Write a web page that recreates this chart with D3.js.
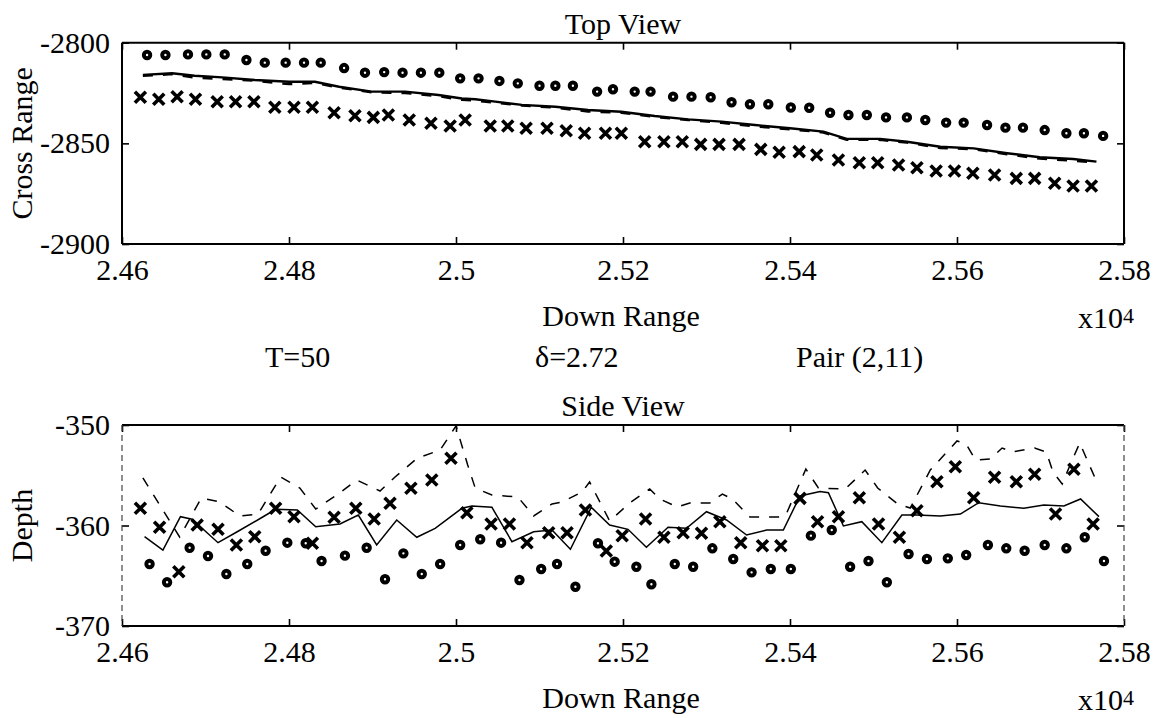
<!DOCTYPE html>
<html>
<head>
<meta charset="utf-8">
<script src="https://cdn.jsdelivr.net/npm/d3@7"></script>
<style>
    body { margin: 0; background: #fff; }
    svg text { font-family: "Liberation Serif", "Times New Roman", serif; fill: #000; }
</style>
</head>
<body>
<div id="chart"></div>
<script>
'use strict';

// down range values are in units of 10^4
const xTicks = [2.46, 2.48, 2.50, 2.52, 2.54, 2.56, 2.58];
const topYTicks = [-2900, -2850, -2800];
const sideYTicks = [-370, -360, -350];
const captions = ['T=50', '\u03b4=2.72', 'Pair (2,11)'];

// Top view: cross range
const topCircles = [
    [2.4630, -2806.1], [2.4652, -2806.1], [2.4679, -2805.8], [2.4701, -2805.8], [2.4723, -2805.8],
    [2.4749, -2808.6], [2.4771, -2809.9], [2.4796, -2809.9], [2.4818, -2809.9], [2.4838, -2809.9],
    [2.4866, -2812.6], [2.4891, -2814.9], [2.4914, -2814.6], [2.4936, -2814.9], [2.4958, -2814.9],
    [2.4980, -2814.9], [2.5005, -2817.7], [2.5027, -2817.7], [2.5052, -2819.0], [2.5074, -2820.2],
    [2.5100, -2821.4], [2.5119, -2821.4], [2.5140, -2821.4], [2.5169, -2824.3], [2.5188, -2823.1],
    [2.5214, -2824.3], [2.5233, -2824.3], [2.5260, -2826.8], [2.5282, -2826.8], [2.5305, -2827.1],
    [2.5330, -2829.6], [2.5352, -2830.6], [2.5374, -2830.6], [2.5401, -2832.2], [2.5423, -2832.3],
    [2.5448, -2834.8], [2.5470, -2835.9], [2.5492, -2835.9], [2.5515, -2837.1], [2.5540, -2837.1],
    [2.5562, -2838.4], [2.5587, -2839.7], [2.5608, -2839.7], [2.5636, -2840.9], [2.5658, -2842.2],
    [2.5679, -2842.2], [2.5705, -2843.4], [2.5731, -2845.0], [2.5752, -2845.0], [2.5775, -2846.3]
];

const topCrosses = [
    [2.4622, -2827.1], [2.4644, -2828.1], [2.4666, -2826.8], [2.4688, -2828.1], [2.4714, -2829.3],
    [2.4736, -2829.3], [2.4758, -2829.3], [2.4783, -2832.1], [2.4806, -2832.1], [2.4828, -2832.1],
    [2.4854, -2834.8], [2.4879, -2836.3], [2.4901, -2837.1], [2.4919, -2835.9], [2.4944, -2838.4],
    [2.4970, -2840.0], [2.4993, -2841.4], [2.5011, -2838.4], [2.5041, -2841.4], [2.5062, -2841.4],
    [2.5084, -2842.5], [2.5109, -2842.5], [2.5132, -2843.7], [2.5154, -2845.0], [2.5179, -2845.0],
    [2.5198, -2845.0], [2.5226, -2849.2], [2.5249, -2849.2], [2.5271, -2849.2], [2.5293, -2850.5],
    [2.5315, -2850.5], [2.5339, -2850.5], [2.5365, -2853.0], [2.5387, -2854.4], [2.5411, -2854.1],
    [2.5432, -2855.8], [2.5458, -2858.3], [2.5483, -2859.6], [2.5505, -2859.6], [2.5530, -2860.8],
    [2.5552, -2862.1], [2.5575, -2863.7], [2.5597, -2863.7], [2.5619, -2864.9], [2.5645, -2865.7],
    [2.5671, -2867.4], [2.5693, -2867.4], [2.5717, -2869.8], [2.5739, -2871.2], [2.5761, -2871.2]
];

const topSolid = [
    [2.4625, -2816.0], [2.4660, -2815.2], [2.4687, -2816.4], [2.4720, -2817.2], [2.4759, -2818.5],
    [2.4800, -2819.4], [2.4831, -2819.4], [2.4860, -2821.9], [2.4899, -2824.3], [2.4939, -2824.3],
    [2.4979, -2826.0], [2.5007, -2827.7], [2.5023, -2828.1], [2.5047, -2829.3], [2.5079, -2830.9],
    [2.5119, -2831.8], [2.5158, -2833.4], [2.5198, -2834.3], [2.5238, -2836.4], [2.5278, -2838.1],
    [2.5318, -2839.2], [2.5358, -2840.9], [2.5400, -2842.5], [2.5440, -2844.2], [2.5468, -2847.8],
    [2.5508, -2847.8], [2.5540, -2849.2], [2.5580, -2851.7], [2.5620, -2852.5], [2.5660, -2854.9],
    [2.5699, -2856.9], [2.5739, -2857.8], [2.5767, -2859.1]
];

const topDashed = [
    [2.4625, -2816.5], [2.4660, -2815.6], [2.4687, -2817.3], [2.4720, -2818.0], [2.4759, -2818.9],
    [2.4800, -2820.6], [2.4831, -2820.0], [2.4860, -2822.3], [2.4899, -2824.6], [2.4939, -2825.0],
    [2.4979, -2826.6], [2.5007, -2828.4], [2.5023, -2828.8], [2.5047, -2829.8], [2.5079, -2831.2],
    [2.5119, -2832.3], [2.5158, -2834.2], [2.5198, -2834.8], [2.5238, -2836.9], [2.5278, -2838.4],
    [2.5318, -2839.8], [2.5358, -2841.6], [2.5400, -2843.0], [2.5440, -2844.6], [2.5468, -2848.2],
    [2.5508, -2848.3], [2.5540, -2849.6], [2.5580, -2852.3], [2.5620, -2852.9], [2.5660, -2855.4],
    [2.5699, -2857.6], [2.5739, -2858.6], [2.5767, -2859.5]
];

// Side view: depth
const sideCircles = [
    [2.4633, -363.83], [2.4654, -365.65], [2.4681, -362.21], [2.4703, -363.03], [2.4725, -364.83],
    [2.4750, -363.83], [2.4772, -362.51], [2.4798, -361.71], [2.4820, -361.77], [2.4839, -363.53],
    [2.4867, -363.00], [2.4893, -362.21], [2.4915, -365.35], [2.4937, -362.77], [2.4959, -364.83],
    [2.4981, -363.83], [2.5005, -361.94], [2.5029, -361.37], [2.5054, -361.71], [2.5076, -365.42],
    [2.5102, -364.33], [2.5121, -363.83], [2.5143, -366.09], [2.5170, -361.77], [2.5190, -363.60],
    [2.5216, -364.10], [2.5234, -365.85], [2.5262, -363.83], [2.5284, -364.10], [2.5307, -362.27],
    [2.5332, -363.33], [2.5354, -364.66], [2.5377, -364.33], [2.5401, -364.33], [2.5425, -361.01],
    [2.5450, -360.45], [2.5472, -364.10], [2.5494, -363.53], [2.5516, -365.65], [2.5542, -362.84],
    [2.5564, -363.33], [2.5589, -363.27], [2.5611, -362.94], [2.5637, -361.94], [2.5659, -362.27],
    [2.5681, -362.51], [2.5705, -361.94], [2.5731, -362.27], [2.5753, -361.17], [2.5776, -363.53]
];

const sideCrosses = [
    [2.4622, -358.29], [2.4645, -360.18], [2.4668, -364.60], [2.4690, -359.95], [2.4715, -360.38],
    [2.4737, -361.94], [2.4759, -361.11], [2.4784, -358.29], [2.4806, -359.12], [2.4828, -361.77],
    [2.4854, -359.18], [2.4880, -358.29], [2.4902, -359.35], [2.4921, -357.79], [2.4946, -356.30],
    [2.4971, -355.47], [2.4994, -353.31], [2.5013, -358.73], [2.5042, -359.85], [2.5064, -359.85],
    [2.5085, -361.71], [2.5111, -360.72], [2.5133, -360.72], [2.5155, -358.46], [2.5180, -362.54],
    [2.5199, -361.01], [2.5227, -359.35], [2.5249, -361.17], [2.5272, -360.72], [2.5294, -360.78],
    [2.5316, -359.62], [2.5341, -361.71], [2.5367, -362.01], [2.5389, -362.01], [2.5412, -357.30],
    [2.5433, -359.62], [2.5458, -359.12], [2.5483, -357.23], [2.5506, -359.85], [2.5531, -361.17],
    [2.5552, -358.53], [2.5576, -355.64], [2.5598, -354.15], [2.5620, -357.23], [2.5645, -355.20],
    [2.5671, -355.64], [2.5693, -354.91], [2.5718, -358.86], [2.5740, -354.41], [2.5763, -359.85]
];

const sideSolid = [
    [2.4627, -361.11], [2.4649, -362.44], [2.4670, -359.12], [2.4684, -359.38], [2.4715, -361.71],
    [2.4738, -360.62], [2.4768, -359.18], [2.4784, -358.39], [2.4810, -358.46], [2.4832, -360.12],
    [2.4861, -359.85], [2.4883, -358.96], [2.4905, -361.94], [2.4929, -359.45], [2.4953, -361.17],
    [2.4975, -360.28], [2.5007, -358.29], [2.5019, -358.06], [2.5043, -358.19], [2.5067, -361.61],
    [2.5093, -360.62], [2.5115, -360.45], [2.5137, -362.37], [2.5162, -358.19], [2.5184, -359.95],
    [2.5206, -360.38], [2.5228, -362.17], [2.5254, -360.18], [2.5276, -360.28], [2.5300, -358.63],
    [2.5324, -359.45], [2.5348, -360.95], [2.5372, -360.45], [2.5392, -360.45], [2.5412, -357.06],
    [2.5436, -356.63], [2.5446, -356.74], [2.5464, -360.05], [2.5486, -359.62], [2.5510, -361.71],
    [2.5534, -358.96], [2.5552, -358.96], [2.5580, -359.05], [2.5604, -358.86], [2.5626, -357.73],
    [2.5652, -358.06], [2.5680, -358.29], [2.5704, -357.96], [2.5728, -358.06], [2.5748, -357.36],
    [2.5770, -359.12]
];

const sideDashed = [
    [2.4625, -355.27], [2.4669, -361.14], [2.4695, -357.26], [2.4717, -357.66], [2.4741, -359.05],
    [2.4763, -358.86], [2.4790, -355.17], [2.4813, -356.27], [2.4832, -358.36], [2.4859, -356.87],
    [2.4881, -355.47], [2.4909, -356.57], [2.4927, -355.17], [2.4954, -353.28], [2.4981, -352.49],
    [2.5000, -350.10], [2.5014, -353.98], [2.5023, -356.27], [2.5043, -356.97], [2.5074, -357.16],
    [2.5093, -359.05], [2.5115, -357.86], [2.5127, -357.66], [2.5151, -356.67], [2.5160, -355.67],
    [2.5184, -359.55], [2.5208, -357.76], [2.5232, -356.37], [2.5244, -357.36], [2.5265, -358.16],
    [2.5280, -357.76], [2.5304, -357.76], [2.5319, -356.87], [2.5331, -357.36], [2.5352, -359.15],
    [2.5386, -359.15], [2.5395, -358.96], [2.5419, -354.38], [2.5434, -356.27], [2.5466, -356.37],
    [2.5490, -354.48], [2.5505, -356.27], [2.5529, -357.86], [2.5544, -358.26], [2.5568, -354.48],
    [2.5600, -351.59], [2.5611, -351.89], [2.5622, -353.48], [2.5640, -353.38], [2.5654, -352.29],
    [2.5666, -352.69], [2.5693, -352.29], [2.5707, -352.69], [2.5715, -354.68], [2.5726, -355.87],
    [2.5738, -353.48], [2.5747, -351.79], [2.5769, -355.97]
];


const dim = {
    width: 1159,
    height: 718,
    left: 122,
    right: 1124,
    tick: 7,
    font: 30
};

const svg = d3.select('#chart')
    .append('svg')
    .attr('width', dim.width)
    .attr('height', dim.height)
    .style('background', '#fff');

const xScale = d3.scaleLinear()
    .domain([2.46, 2.58])
    .range([dim.left, dim.right]);

const xFormat = (d) => String(+d.toFixed(2));


function panel(opts) {
    const yScale = d3.scaleLinear()
        .domain(opts.ydomain)
        .range([opts.bottom, opts.top]);

    const g = svg.append('g').attr('class', 'panel');

    // bottom axis with labels, ticks pointing inward
    g.append('g')
        .attr('transform', `translate(0, ${opts.bottom})`)
        .call(d3.axisBottom(xScale).tickValues(xTicks).tickFormat(xFormat)
            .tickSizeInner(-dim.tick).tickSizeOuter(0).tickPadding(14.5));

    // top axis, ticks only
    g.append('g')
        .attr('transform', `translate(0, ${opts.top})`)
        .call(d3.axisTop(xScale).tickValues(xTicks).tickFormat('')
            .tickSizeInner(-dim.tick).tickSizeOuter(0));

    g.append('g')
        .attr('transform', `translate(${dim.left}, 0)`)
        .call(d3.axisLeft(yScale).tickValues(opts.yticks).tickFormat((d) => String(d))
            .tickSizeInner(-dim.tick).tickSizeOuter(0).tickPadding(12));

    g.append('g')
        .attr('transform', `translate(${dim.right}, 0)`)
        .call(d3.axisRight(yScale).tickValues(opts.yticks).tickFormat('')
            .tickSizeInner(-dim.tick).tickSizeOuter(0));

    g.selectAll('.domain').remove();
    g.selectAll('.tick line').attr('stroke', '#000').attr('stroke-width', 1.6);
    g.selectAll('.tick text')
        .attr('font-size', dim.font)
        .style('font-family', '"Liberation Serif", serif');

    // frame
    g.append('line').attr('x1', dim.left).attr('x2', dim.right)
        .attr('y1', opts.top).attr('y2', opts.top)
        .attr('stroke', '#000').attr('stroke-width', 2);
    g.append('line').attr('x1', dim.left).attr('x2', dim.right)
        .attr('y1', opts.bottom).attr('y2', opts.bottom)
        .attr('stroke', '#000').attr('stroke-width', 2);
    [dim.left, dim.right].forEach(function(x) {
        g.append('line').attr('x1', x).attr('x2', x)
            .attr('y1', opts.top).attr('y2', opts.bottom)
            .attr('stroke', opts.sideFrame ? '#444' : '#000')
            .attr('stroke-width', opts.sideFrame ? 1.2 : 2)
            .attr('stroke-dasharray', opts.sideFrame ? '6,4' : null);
    });

    const line = d3.line()
        .x((d) => xScale(d[0]))
        .y((d) => yScale(d[1]));

    g.append('path')
        .datum(opts.dashed)
        .attr('d', line)
        .attr('fill', 'none')
        .attr('stroke', '#000')
        .attr('stroke-width', opts.lineWidth)
        .attr('stroke-dasharray', '10,10');

    g.append('path')
        .datum(opts.solid)
        .attr('d', line)
        .attr('fill', 'none')
        .attr('stroke', '#000')
        .attr('stroke-width', opts.lineWidth);

    g.selectAll('.circ')
        .data(opts.circles)
        .enter()
        .append('circle')
        .attr('class', 'circ')
        .attr('cx', (d) => xScale(d[0]))
        .attr('cy', (d) => yScale(d[1]))
        .attr('r', 3.2)
        .attr('fill', '#fff')
        .attr('stroke', '#000')
        .attr('stroke-width', 4);

    g.selectAll('.cross')
        .data(opts.crosses)
        .enter()
        .append('path')
        .attr('class', 'cross')
        .attr('transform', (d) => `translate(${xScale(d[0])},${yScale(d[1])})`)
        .attr('d', 'M-5.5,-5.5L5.5,5.5M-5.5,5.5L5.5,-5.5')
        .attr('stroke', '#000')
        .attr('stroke-width', 3.6);

    // titles and labels
    g.append('text')
        .attr('x', 623)
        .attr('y', opts.top - 9)
        .attr('text-anchor', 'middle')
        .attr('font-size', dim.font)
        .text(opts.title);

    g.append('text')
        .attr('x', 621)
        .attr('y', opts.bottom + 82)
        .attr('text-anchor', 'middle')
        .attr('font-size', dim.font)
        .text('Down Range');

    const mult = g.append('text')
        .attr('x', 1078)
        .attr('y', opts.bottom + 84)
        .attr('font-size', dim.font);
    mult.append('tspan').text('x10');
    mult.append('tspan').attr('font-size', 22).attr('dy', -5).text('4');

    g.append('text')
        .attr('transform', `translate(32, ${(opts.top + opts.bottom) / 2}) rotate(-90)`)
        .attr('text-anchor', 'middle')
        .attr('font-size', dim.font)
        .text(opts.ylabel);
}


panel({
    title: 'Top View',
    ylabel: 'Cross Range',
    top: 42.7,
    bottom: 244,
    ydomain: [-2900, -2800],
    yticks: topYTicks,
    circles: topCircles,
    crosses: topCrosses,
    solid: topSolid,
    dashed: topDashed,
    lineWidth: 2.4,
    sideFrame: false
});

panel({
    title: 'Side View',
    ylabel: 'Depth',
    top: 425,
    bottom: 626,
    ydomain: [-370, -350],
    yticks: sideYTicks,
    circles: sideCircles,
    crosses: sideCrosses,
    solid: sideSolid,
    dashed: sideDashed,
    lineWidth: 1.5,
    sideFrame: true
});

// run parameters between the panels
svg.selectAll('.caption')
    .data(captions)
    .enter()
    .append('text')
    .attr('class', 'caption')
    .attr('x', (d, i) => [265, 535, 796][i])
    .attr('y', 367)
    .attr('font-size', dim.font)
    .text((d) => d);
</script>
</body>
</html>
